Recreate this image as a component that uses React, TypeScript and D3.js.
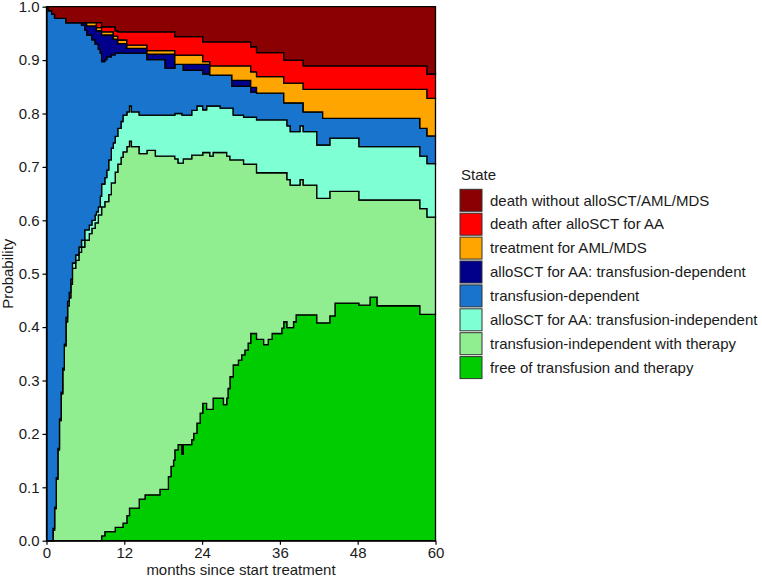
import React, { useEffect, useRef } from 'react';
import * as d3 from 'd3';

// months since start of treatment at which a state probability changes
const months = [
  0, 0.3, 0.8, 1.0, 1.25, 1.5, 1.75, 2.0, 2.25, 2.5,
  2.75, 3.0, 3.25, 3.5, 3.75, 4.0, 4.5, 5.0, 5.4, 5.9,
  6.2, 6.6, 7.0, 7.5, 7.7, 8.0, 8.3, 8.5, 9.0, 9.3,
  9.6, 10.0, 10.3, 10.6, 11.0, 11.5, 11.8, 12.4, 12.8, 13.1,
  14.3, 15.2, 15.5, 16.8, 17.5, 18.3, 18.8, 19.2, 19.6, 19.8,
  20.3, 20.9, 21.1, 22.4, 22.7, 23.2, 23.7, 24.1, 24.7, 25.2,
  25.7, 26.8, 27.3, 27.8, 28.0, 28.3, 28.6, 28.8, 29.6, 30.1,
  30.4, 30.6, 31.1, 31.5, 32.4, 33.5, 34.2, 34.8, 36.3, 36.6,
  37.1, 37.6, 38.1, 38.5, 39.1, 39.6, 41.7, 42.6, 43.7, 44.5,
  48.2, 49.9, 51.0, 57.6, 58.7, 60
];

// state occupation probabilities, one value per entry of `months`
const freeOfTransfusion = [
  0, 0, 0, 0, 0, 0, 0, 0, 0, 0,
  0, 0, 0, 0, 0, 0, 0, 0, 0, 0,
  0, 0, 0, 0, 0, 0, 0, 0.009, 0.017, 0.017,
  0.017, 0.017, 0.017, 0.025, 0.025, 0.025, 0.033, 0.047, 0.061, 0.061,
  0.078, 0.086, 0.086, 0.086, 0.096, 0.096, 0.12, 0.139, 0.151, 0.17,
  0.18, 0.162, 0.18, 0.189, 0.201, 0.22, 0.239, 0.257, 0.246, 0.246,
  0.267, 0.267, 0.255, 0.267, 0.285, 0.307, 0.307, 0.329, 0.338, 0.348,
  0.348, 0.357, 0.37, 0.388, 0.377, 0.367, 0.377, 0.388, 0.398, 0.41,
  0.399, 0.399, 0.41, 0.423, 0.423, 0.423, 0.408, 0.408, 0.421, 0.445,
  0.441, 0.456, 0.44, 0.424, 0.424, 0.424
];
const independentWithTherapy = [
  0, 0, 0, 0.02, 0.06, 0.115, 0.17, 0.225, 0.275, 0.32,
  0.365, 0.41, 0.44, 0.455, 0.48, 0.51, 0.525, 0.54, 0.55, 0.563,
  0.563, 0.575, 0.585, 0.595, 0.595, 0.61, 0.61, 0.616, 0.618, 0.618,
  0.631, 0.653, 0.653, 0.665, 0.68, 0.693, 0.695, 0.691, 0.687, 0.677,
  0.647, 0.639, 0.645, 0.634, 0.624, 0.624, 0.6, 0.581, 0.569, 0.545,
  0.527, 0.545, 0.535, 0.533, 0.521, 0.502, 0.483, 0.47, 0.481, 0.474,
  0.46, 0.46, 0.472, 0.453, 0.435, 0.406, 0.406, 0.384, 0.375, 0.365,
  0.357, 0.348, 0.335, 0.317, 0.312, 0.322, 0.312, 0.301, 0.291, 0.279,
  0.277, 0.267, 0.256, 0.243, 0.253, 0.243, 0.233, 0.233, 0.233, 0.209,
  0.197, 0.182, 0.198, 0.198, 0.182, 0.182
];
const alloIndependent = [
  0, 0, 0, 0.003, 0.003, 0.003, 0.003, 0.003, 0.003, 0.003,
  0.003, 0.008, 0.008, 0.01, 0.01, 0.01, 0.01, 0.01, 0.013, 0.019,
  0.019, 0.016, 0.015, 0.015, 0.021, 0.015, 0.035, 0.043, 0.045, 0.059,
  0.065, 0.065, 0.075, 0.067, 0.067, 0.067, 0.069, 0.065, 0.066, 0.065,
  0.072, 0.072, 0.066, 0.077, 0.077, 0.077, 0.077, 0.077, 0.077, 0.085,
  0.093, 0.09, 0.082, 0.084, 0.084, 0.092, 0.092, 0.08, 0.087, 0.094,
  0.087, 0.083, 0.083, 0.09, 0.09, 0.097, 0.097, 0.084, 0.084, 0.084,
  0.088, 0.088, 0.088, 0.088, 0.099, 0.099, 0.099, 0.099, 0.099, 0.099,
  0.101, 0.1, 0.1, 0.1, 0.101, 0.1, 0.1, 0.1, 0.1, 0.1,
  0.1, 0.1, 0.1, 0.098, 0.1, 0.1
];
const transfusionDependent = [
  1, 0.9925, 0.986, 0.963, 0.915, 0.86, 0.805, 0.75, 0.7, 0.655,
  0.61, 0.552, 0.522, 0.505, 0.48, 0.45, 0.435, 0.42, 0.402, 0.374,
  0.365, 0.356, 0.338, 0.32, 0.314, 0.295, 0.268, 0.229, 0.221, 0.212,
  0.193, 0.175, 0.165, 0.156, 0.141, 0.128, 0.116, 0.11, 0.099, 0.11,
  0.116, 0.116, 0.104, 0.104, 0.104, 0.088, 0.088, 0.088, 0.088, 0.092,
  0.092, 0.095, 0.084, 0.075, 0.075, 0.067, 0.067, 0.067, 0.06, 0.058,
  0.058, 0.062, 0.062, 0.062, 0.062, 0.062, 0.041, 0.054, 0.054, 0.054,
  0.058, 0.058, 0.058, 0.047, 0.05, 0.05, 0.05, 0.05, 0.05, 0.032,
  0.043, 0.054, 0.054, 0.054, 0.043, 0.037, 0.062, 0.05, 0.037, 0.037,
  0.053, 0.053, 0.053, 0.052, 0.052, 0.052
];
const alloDependent = [
  0, 0, 0, 0, 0, 0, 0, 0, 0, 0,
  0, 0, 0, 0, 0, 0, 0, 0, 0.005, 0.014,
  0.017, 0.017, 0.026, 0.034, 0.025, 0.035, 0.042, 0.05, 0.046, 0.041,
  0.041, 0.037, 0.029, 0.026, 0.018, 0.018, 0.018, 0.009, 0.009, 0.009,
  0.009, 0.009, 0.01, 0.01, 0.01, 0.026, 0.026, 0.026, 0.026, 0,
  0, 0, 0.011, 0.011, 0.011, 0.011, 0.011, 0.018, 0.018, 0,
  0, 0, 0, 0, 0, 0, 0.011, 0.011, 0.011, 0.011,
  0.011, 0.011, 0.011, 0.009, 0, 0, 0, 0, 0, 0,
  0, 0, 0, 0, 0, 0, 0, 0, 0, 0,
  0, 0, 0, 0, 0, 0
];
const amlTreatment = [
  0, 0, 0, 0, 0, 0, 0, 0, 0, 0,
  0, 0, 0, 0, 0, 0, 0, 0, 0, 0,
  0.006, 0.006, 0.006, 0.006, 0.006, 0.006, 0.006, 0.006, 0.006, 0.006,
  0.006, 0.006, 0.006, 0.006, 0.0066, 0.0066, 0.0066, 0.006, 0.006, 0.006,
  0.006, 0.006, 0.0066, 0.0066, 0.0066, 0.0066, 0.0066, 0.0066, 0.0066, 0.0175,
  0.0175, 0.0175, 0.0175, 0.0175, 0.0175, 0.0175, 0.0175, 0.005, 0.005, 0.017,
  0.017, 0.017, 0.017, 0.017, 0.017, 0.017, 0.027, 0.027, 0.027, 0.027,
  0.027, 0.027, 0.027, 0.029, 0.031, 0.031, 0.031, 0.031, 0.031, 0.037,
  0.037, 0.037, 0.037, 0.037, 0.037, 0.042, 0.042, 0.054, 0.054, 0.054,
  0.054, 0.054, 0.054, 0.073, 0.0705, 0.0705
];
const deathAfterAllo = [
  0, 0, 0, 0, 0, 0, 0, 0, 0, 0,
  0, 0, 0, 0, 0, 0, 0, 0, 0, 0,
  0, 0, 0, 0, 0.009, 0.009, 0.009, 0.0095, 0.0095, 0.0095,
  0.0095, 0.0095, 0.0175, 0.01, 0.0154, 0.0154, 0.0154, 0.025, 0.025, 0.025,
  0.025, 0.025, 0.0354, 0.0354, 0.0354, 0.0354, 0.0354, 0.0354, 0.0354, 0.0345,
  0.0345, 0.0345, 0.0345, 0.0345, 0.0345, 0.0345, 0.0345, 0.037, 0.037, 0.045,
  0.045, 0.045, 0.045, 0.045, 0.045, 0.045, 0.045, 0.045, 0.045, 0.045,
  0.045, 0.045, 0.045, 0.047, 0.045, 0.045, 0.045, 0.045, 0.045, 0.043,
  0.043, 0.043, 0.043, 0.043, 0.043, 0.044, 0.044, 0.044, 0.044, 0.044,
  0.044, 0.044, 0.044, 0.044, 0.0455, 0.0455
];
const deathWithout = [
  0, 0.0075, 0.014, 0.014, 0.022, 0.022, 0.022, 0.022, 0.022, 0.022,
  0.022, 0.03, 0.03, 0.03, 0.03, 0.03, 0.03, 0.03, 0.03, 0.03,
  0.03, 0.03, 0.03, 0.03, 0.03, 0.03, 0.03, 0.0375, 0.0375, 0.0375,
  0.0375, 0.0375, 0.0375, 0.045, 0.047, 0.047, 0.047, 0.047, 0.047, 0.047,
  0.047, 0.047, 0.047, 0.047, 0.047, 0.047, 0.047, 0.047, 0.047, 0.056,
  0.056, 0.056, 0.056, 0.056, 0.056, 0.056, 0.056, 0.066, 0.066, 0.066,
  0.066, 0.066, 0.066, 0.066, 0.066, 0.066, 0.066, 0.066, 0.066, 0.066,
  0.066, 0.066, 0.066, 0.075, 0.086, 0.086, 0.086, 0.086, 0.086, 0.1,
  0.1, 0.1, 0.1, 0.1, 0.1, 0.111, 0.111, 0.111, 0.111, 0.111,
  0.111, 0.111, 0.111, 0.111, 0.126, 0.126
];

// stacking order, bottom to top
const stateKeys = ['free', 'tiTherapy', 'alloTI', 'td', 'alloTD', 'aml', 'deathAllo', 'deathNo'];
const stateSeries = [
  freeOfTransfusion, independentWithTherapy, alloIndependent, transfusionDependent,
  alloDependent, amlTreatment, deathAfterAllo, deathWithout
];
const stateLabels = [
  'free of transfusion and therapy',
  'transfusion-independent with therapy',
  'alloSCT for AA: transfusion-independent',
  'transfusion-dependent',
  'alloSCT for AA: transfusion-dependent',
  'treatment for AML/MDS',
  'death after alloSCT for AA',
  'death without alloSCT/AML/MDS'
];
const stateColors = ['#00CD00', '#90EE90', '#7FFFD4', '#1874CD', '#00008B', '#FFA500', '#FF0000', '#8B0000'];

const yTicks = [0, 0.1, 0.2, 0.3, 0.4, 0.5, 0.6, 0.7, 0.8, 0.9, 1.0];
const xTicks = [0, 12, 24, 36, 48, 60];

const FONT = '"Liberation Sans", Arial, Helvetica, sans-serif';
const TEXT = '#1a1a1a';

const App = () => {
  const ref = useRef<SVGSVGElement>(null);

  useEffect(() => {
    const svg = d3.select(ref.current);
    svg.selectAll('*').remove();

    const x = d3.scaleLinear().domain([0, 60]).range([46.5, 435.5]);
    const y = d3.scaleLinear().domain([0, 1]).range([540.7, 6.7]);

    const rows = months.map((m, i) => {
      const row: any = { month: m };
      stateKeys.forEach((k, j) => { row[k] = stateSeries[j][i]; });
      return row;
    });

    const stacked = d3.stack().keys(stateKeys)(rows);

    const area = d3.area<any>()
      .curve(d3.curveStepAfter)
      .x(d => x(d.data.month))
      .y0(d => y(d[0]))
      .y1(d => y(d[1]));

    svg.append('g')
      .selectAll('path')
      .data(stacked)
      .join('path')
      .attr('d', area)
      .attr('fill', (d, i) => stateColors[i])
      .attr('stroke', '#000')
      .attr('stroke-width', 1.3)
      .attr('stroke-linejoin', 'miter');

    // y axis
    const yAxis = svg.append('g')
      .attr('transform', 'translate(46.5,0)')
      .call(d3.axisLeft(y).tickValues(yTicks).tickFormat(d3.format('.1f')).tickSize(4).tickSizeOuter(0).tickPadding(3));
    // x axis
    const xAxis = svg.append('g')
      .attr('transform', 'translate(0,540.7)')
      .call(d3.axisBottom(x).tickValues(xTicks).tickSize(4).tickSizeOuter(0).tickPadding(3));

    [yAxis, xAxis].forEach(g => {
      g.select('.domain').attr('stroke', '#000').attr('stroke-width', 1.3);
      g.selectAll('.tick line').attr('stroke', '#000').attr('stroke-width', 1.2);
      g.selectAll('.tick text')
        .attr('fill', TEXT)
        .style('font-family', FONT)
        .style('font-size', '15px');
    });

    svg.append('text')
      .attr('transform', 'translate(12.5,273.7) rotate(-90)')
      .attr('text-anchor', 'middle')
      .attr('fill', TEXT)
      .style('font-family', FONT)
      .style('font-size', '15px')
      .text('Probability');

    svg.append('text')
      .attr('x', 241)
      .attr('y', 575)
      .attr('text-anchor', 'middle')
      .attr('fill', TEXT)
      .style('font-family', FONT)
      .style('font-size', '15px')
      .text('months since start treatment');

    // legend, top state first
    const legend = svg.append('g').attr('transform', 'translate(460,0)');
    legend.append('text')
      .attr('x', 1)
      .attr('y', 180)
      .attr('fill', TEXT)
      .style('font-family', FONT)
      .style('font-size', '15px')
      .text('State');

    const order = d3.range(stateKeys.length).reverse();
    const items = legend.selectAll('g.item')
      .data(order)
      .join('g')
      .attr('class', 'item')
      .attr('transform', (d, i) => `translate(0,${189.3 + i * 23.9})`);

    items.append('rect')
      .attr('width', 22)
      .attr('height', 22)
      .attr('fill', d => stateColors[d])
      .attr('stroke', '#333')
      .attr('stroke-width', 1);

    items.append('text')
      .attr('x', 30)
      .attr('y', 16.3)
      .attr('fill', TEXT)
      .style('font-family', FONT)
      .style('font-size', '15px')
      .text(d => stateLabels[d]);
  }, []);

  return (
    <div style={{ position: 'absolute', left: 0, top: 0 }}>
      <svg ref={ref} width={762} height={577}></svg>
    </div>
  );
};

export default App;
